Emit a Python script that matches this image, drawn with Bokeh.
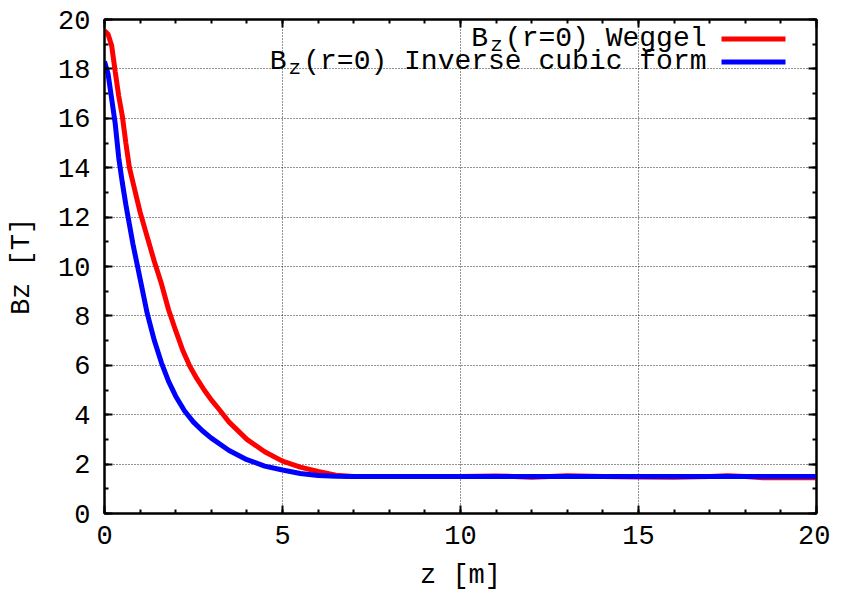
from bokeh.plotting import figure
from bokeh.models import (SingleIntervalTicker, LinearAxis, Range1d, Label, BoxAnnotation,
                          CustomJSTickFormatter)
from bokeh.embed import file_html
from bokeh.resources import INLINE

# ---- data ----
z_weggel = [0, 0.1, 0.2, 0.3, 0.4, 0.5, 0.6, 0.7, 0.8, 0.9, 1.0, 1.2, 1.4, 1.6, 1.8,
            2.0, 2.2, 2.4, 2.6, 2.8, 3.0, 3.2, 3.5, 4.0, 4.5, 5.0, 5.5, 6.0, 6.5, 7.0,
            8, 9, 10, 11, 11.5, 12, 12.5, 13, 14, 15, 16, 17, 17.5, 18, 18.5, 19, 20]
bz_weggel = [19.55, 19.4, 18.95, 17.9, 16.9, 16.1, 15.0, 14.0, 13.4, 12.8, 12.2, 11.2,
             10.2, 9.3, 8.25, 7.4, 6.6, 5.95, 5.45, 5.0, 4.6, 4.25, 3.7, 3.0, 2.5, 2.12,
             1.88, 1.7, 1.55, 1.5, 1.5, 1.5, 1.5, 1.52, 1.5, 1.47, 1.5, 1.53, 1.5, 1.48,
             1.47, 1.5, 1.53, 1.5, 1.45, 1.45, 1.45]

z_cubic = [0, 0.1, 0.2, 0.3, 0.4, 0.5, 0.6, 0.7, 0.8, 0.9, 1.0, 1.2, 1.4, 1.6, 1.8, 2.0,
           2.25, 2.5, 2.75, 3.0, 3.5, 4.0, 4.5, 5.0, 5.5, 6.0, 6.5, 7.0, 8, 10, 12, 14,
           16, 18, 20]
bz_cubic = [18.3, 17.8, 16.8, 15.8, 14.4, 13.4, 12.5, 11.7, 10.9, 10.2, 9.5, 8.1, 7.0,
            6.1, 5.35, 4.75, 4.15, 3.7, 3.35, 3.05, 2.55, 2.18, 1.92, 1.76, 1.62, 1.54,
            1.51, 1.5, 1.5, 1.5, 1.5, 1.5, 1.5, 1.5, 1.5]

x_label = "z [m]"
y_label = "Bz [T]"
legend_rest = ["(r=0) Weggel", "(r=0) Inverse cubic form"]
colors = ["#ff0000", "#0000ff"]

FONT = "Liberation Mono"
FS = 27
LFS = 28
ADV = 0.6 * LFS

p = figure(frame_width=712, frame_height=494,
           x_range=Range1d(0, 20), y_range=Range1d(0, 20),
           output_backend="svg", toolbar_location=None,
           min_border_left=104, min_border_top=19, min_border_right=14,
           min_border_bottom=63,
           x_axis_label=x_label, y_axis_label=y_label)
p.background_fill_color = "white"
p.border_fill_color = "white"
p.outline_line_color = "black"
p.outline_line_width = 2

p.line(z_weggel, bz_weggel, color=colors[0], line_width=5)
p.line(z_cubic, bz_cubic, color=colors[1], line_width=5)

xt = SingleIntervalTicker(interval=5, num_minor_ticks=5)
yt = SingleIntervalTicker(interval=2, num_minor_ticks=2)


def style_axis(ax, show_labels=True):
    ax.axis_line_color = "black"
    ax.axis_line_width = 2
    ax.major_tick_in = 8
    ax.major_tick_out = 0
    ax.minor_tick_in = 4
    ax.minor_tick_out = 0
    ax.major_tick_line_color = "black"
    ax.major_tick_line_width = 2
    ax.minor_tick_line_color = "black"
    ax.minor_tick_line_width = 2
    ax.major_label_text_font = FONT
    ax.major_label_text_color = "black"
    ax.major_label_text_font_size = f"{FS}px"
    ax.axis_label_text_font = FONT
    ax.axis_label_text_font_style = "normal"
    ax.axis_label_text_font_size = f"{FS}px"
    ax.axis_label_text_color = "black"
    if not show_labels:
        ax.formatter = CustomJSTickFormatter(code="return ''")
        ax.major_label_standoff = 0


p.xaxis.ticker = xt
p.yaxis.ticker = yt
style_axis(p.xaxis[0])
style_axis(p.yaxis[0])
p.xaxis.major_label_standoff = 12
p.xaxis.axis_label_standoff = 14
p.yaxis.major_label_standoff = 14
p.yaxis.axis_label_standoff = 18

top = LinearAxis(ticker=xt)
style_axis(top, False)
p.add_layout(top, "above")
right = LinearAxis(ticker=yt)
style_axis(right, False)
p.add_layout(right, "right")

p.xgrid.ticker = xt
p.ygrid.ticker = yt
p.grid.grid_line_color = "black"
p.grid.grid_line_width = 1
p.grid.grid_line_dash = "1 2"
p.grid.grid_line_alpha = 0.85

# ---- legend (gnuplot style: text right-aligned, sample to the right) ----
text_right = 602
rows_y = [475, 452]
box_y = [477, 454]
for i, rest in enumerate(legend_rest):
    n = len(rest)
    p.add_layout(Label(x=text_right, y=rows_y[i], x_units="screen", y_units="screen",
                       text=rest, text_align="right", text_baseline="alphabetic",
                       text_font=FONT, text_font_size=f"{LFS}px", text_color="black"))
    z_center = text_right - n * ADV - ADV / 2
    p.add_layout(Label(x=z_center, y=rows_y[i] - 7, x_units="screen", y_units="screen",
                       text="z", text_align="center", text_baseline="alphabetic",
                       text_font=FONT, text_font_size="21px", text_color="black"))
    p.add_layout(Label(x=z_center - ADV, y=rows_y[i], x_units="screen", y_units="screen",
                       text="B", text_align="center", text_baseline="alphabetic",
                       text_font=FONT, text_font_size=f"{LFS}px", text_color="black"))
    p.add_layout(BoxAnnotation(left=617, right=681, top=box_y[i], bottom=box_y[i] - 5,
                               left_units="screen", right_units="screen",
                               top_units="screen", bottom_units="screen",
                               fill_color=colors[i], fill_alpha=1.0, line_color=None))

open("out.html", "w").write(file_html(p, INLINE))
